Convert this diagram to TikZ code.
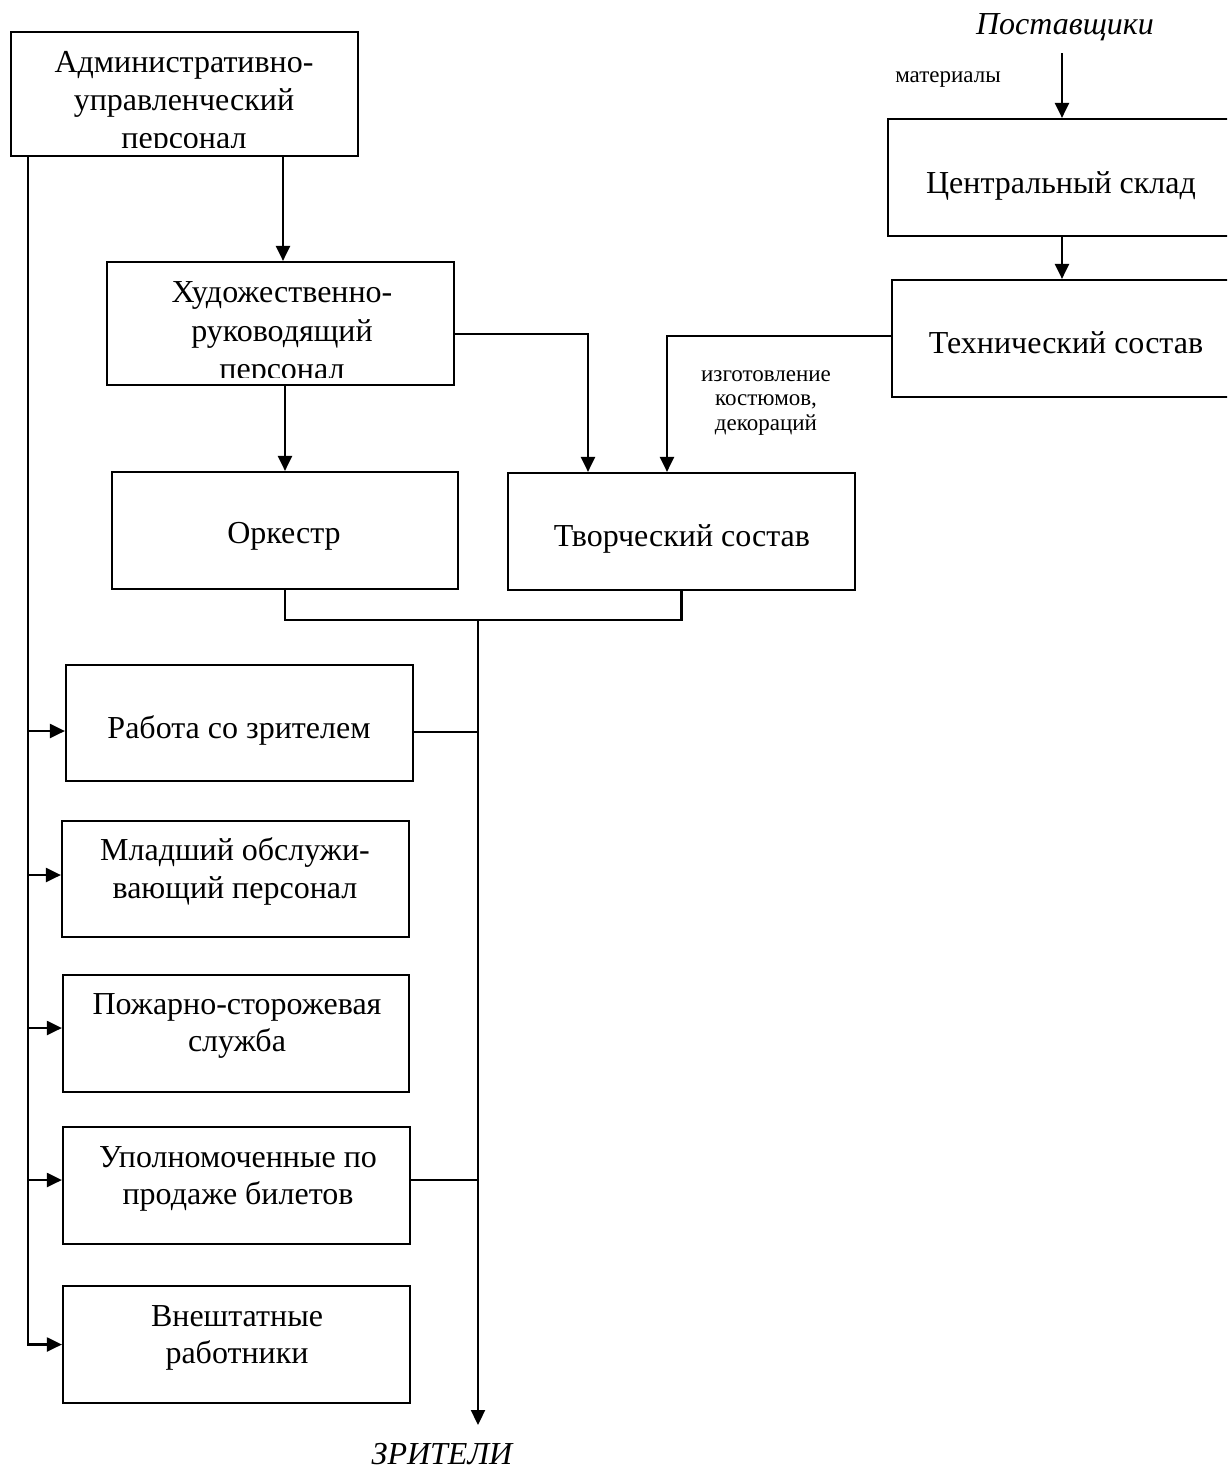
\documentclass[tikz,border=0pt]{standalone}
\usepackage{fontspec}
\setmainfont{Liberation Serif}
\usetikzlibrary{arrows.meta}
\begin{document}
\begin{tikzpicture}[x=0.5pt,y=-0.5pt,
  box/.style={draw,line width=1.1pt,inner sep=0pt},
  ln/.style={line width=1.1pt},
  arr/.style={line width=1.1pt,-{Triangle[length=7.5pt,width=7pt]}},
  mt/.style={font=\fontsize{16pt}{19pt}\selectfont,anchor=base,inner sep=0pt},
  st/.style={font=\fontsize{11.5pt}{12pt}\selectfont,anchor=base,inner sep=0pt},
  it/.style={font=\fontsize{16pt}{19pt}\selectfont\itshape,anchor=base,inner sep=0pt}]
\useasboundingbox (0,0) rectangle (1227,1468);
\clip (0,0) rectangle (1227,1468);

% boxes
\node[box,minimum width=173.5pt,minimum height=62pt] (A) at (184.5,94) {};
\node[box,minimum width=173.5pt,minimum height=61.5pt] (X) at (280.5,323.5) {};
\node[box,minimum width=173pt,minimum height=58.5pt] (O) at (285,530.5) {};
\node[box,minimum width=173.5pt,minimum height=58.5pt] (T) at (681.5,531.5) {};
\node[box,minimum width=174pt,minimum height=58.5pt] (C) at (1062,177.5) {};
\node[box,minimum width=174pt,minimum height=58.5pt] (Tech) at (1066,338.5) {};
\node[box,minimum width=173.5pt,minimum height=58pt] (R) at (239.5,723) {};
\node[box,minimum width=173.5pt,minimum height=58pt] (M) at (235.5,879) {};
\node[box,minimum width=173pt,minimum height=58.5pt] (P) at (236,1033.5) {};
\node[box,minimum width=173.5pt,minimum height=58.5pt] (U) at (236.5,1185.5) {};
\node[box,minimum width=173.5pt,minimum height=58.5pt] (V) at (236.5,1344.5) {};

% texts
\begin{scope}
\clip (A.north west) rectangle ([yshift=5pt]A.south east);
\node[mt] (a1) at (184,72) {Административно-};
\node[mt] (a2) at (184,110) {управленческий};
\node[mt] (a3) at (184,148) {персонал};
\end{scope}
\begin{scope}
\clip (X.north west) rectangle ([yshift=4.5pt]X.south east);
\node[mt] (x1) at (282,302) {Художественно-};
\node[mt] (x2) at (282,341) {руководящий};
\node[mt] (x3) at (282,379) {персонал};
\end{scope}
\node[mt] (o1) at (284,543) {Оркестр};
\node[mt] (t1) at (682,546) {Творческий состав};
\node[mt] (c1) at (1061,193) {Центральный склад};
\node[mt] (te1) at (1066,353) {Технический состав};
\node[mt] (r1) at (239,738) {Работа со зрителем};
\node[mt] (m1) at (235,860) {Младший обслужи-};
\node[mt] (m2) at (235,898) {вающий персонал};
\node[mt] (p1) at (237,1014) {Пожарно-сторожевая};
\node[mt] (p2) at (237,1051) {служба};
\node[mt] (u1) at (238,1167) {Уполномоченные по};
\node[mt] (u2) at (238,1204) {продаже билетов};
\node[mt] (v1) at (237,1326) {Внештатные};
\node[mt] (v2) at (237,1363) {работники};
\node[it] (post) at (1065,34) {Поставщики};
\node[it] (zr) at (442,1464) {ЗРИТЕЛИ};
\node[st] (mat) at (948,82) {материалы};
\node[st] (iz1) at (766,381) {изготовление};
\node[st] (iz2) at (766,405) {костюмов,};
\node[st] (iz3) at (766,430) {декораций};

% helper coordinates
\coordinate (sp) at (28,0);
\coordinate (sp2) at (478,0);
\coordinate (k1) at (588,334);
\coordinate (k2) at (667,336);
\coordinate (k3) at (283,0);
\coordinate (k4) at (1062,53);
\coordinate (j) at (478,620);
\coordinate (jend) at (478,1425);

% connectors
\draw[arr] (A.south -| k3) -- (X.north -| k3);
\draw[arr] (X.south -| O.north) -- (O.north);
\draw[arr] (X.east |- k1) -| (T.north -| k1);
\draw[arr] (Tech.west |- k2) -| (T.north -| k2);
\draw[arr] (k4) -- (C.north);
\draw[arr] (C.south) -- (C.south |- Tech.north);
\draw[ln] (O.south) -- (O.south |- j) -| (T.south);
\draw[arr] (j) -- (jend);
\draw[ln] ([yshift=-4.5pt]R.east) -- ([yshift=-4.5pt]R.east -| sp2);
\draw[ln] ([yshift=2.75pt]U.east) -- ([yshift=2.75pt]U.east -| sp2);

\draw[arr] (A.south -| sp) -- (V.west -| sp) -- (V.west);
\draw[arr] ([yshift=-4pt]R.west -| sp) -- ([yshift=-4pt]R.west);
\draw[arr] ([yshift=2pt]M.west -| sp) -- ([yshift=2pt]M.west);
\draw[arr] ([yshift=2.75pt]P.west -| sp) -- ([yshift=2.75pt]P.west);
\draw[arr] ([yshift=2.75pt]U.west -| sp) -- ([yshift=2.75pt]U.west);
\end{tikzpicture}
\end{document}
